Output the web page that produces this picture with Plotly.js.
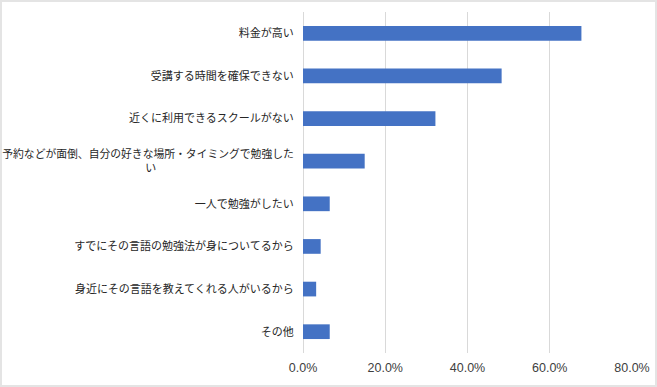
<!DOCTYPE html>
<html>
<head>
<meta charset="utf-8">
<script src="https://cdn.plot.ly/plotly-3.0.1.min.js"></script>
<style>
html,body{margin:0;padding:0;background:#fff;}
#wrap{width:657px;height:387px;box-sizing:border-box;border:2px solid #e4e4e4;background:#fff;}
#chart{width:653px;height:383px;}
</style>
</head>
<body>
<div id="wrap"><div id="chart"></div></div>
<script>
var categories = [
  "料金が高い",
  "受講する時間を確保できない",
  "近くに利用できるスクールがない",
  "<span style=\"font-size:10.8px\">予約などが面倒、自分の好きな場所・タイミングで勉強した</span><br>い　　　　　　　　　　　　\u2002",
  "一人で勉強がしたい",
  "すでにその言語の勉強法が身についてるから",
  "身近にその言語を教えてくれる人がいるから",
  "その他"
];
var values = [0.677, 0.483, 0.322, 0.150, 0.065, 0.043, 0.032, 0.065];
var xTicks = [0, 0.2, 0.4, 0.6, 0.8];

var trace = {
  type: 'bar',
  orientation: 'h',
  y: categories,
  x: values,
  marker: {color: '#4472C4'},
  hoverinfo: 'x+y'
};

var layout = {
  width: 653,
  height: 383,
  margin: {l: 301, r: 23, t: 10, b: 32},
  paper_bgcolor: '#ffffff',
  plot_bgcolor: '#ffffff',
  bargap: 0.655,
  showlegend: false,
  font: {family: '"Noto Sans CJK JP", "Liberation Sans", sans-serif', size: 11, color: '#404040'},
  xaxis: {
    range: [0, 0.8],
    tickvals: xTicks,
    tickformat: '.1%',
    showgrid: true,
    gridcolor: '#d9d9d9',
    gridwidth: 1,
    zeroline: true,
    zerolinecolor: '#d9d9d9',
    showline: false,
    ticks: 'outside',
    ticklen: 3,
    tickcolor: 'rgba(0,0,0,0)',
    tickfont: {family: '"Liberation Sans", Arial, sans-serif', size: 12.5, color: '#404040'},
    fixedrange: true
  },
  yaxis: {
    type: 'category',
    autorange: 'reversed',
    showgrid: false,
    zeroline: false,
    showline: false,
    ticks: 'outside',
    ticklen: 6,
    tickcolor: 'rgba(0,0,0,0)',
    tickfont: {family: '"Noto Sans CJK JP", sans-serif', size: 11, color: '#262626'},
    fixedrange: true
  }
};

Plotly.newPlot('chart', [trace], layout, {displayModeBar: false, staticPlot: true});
</script>
</body>
</html>
